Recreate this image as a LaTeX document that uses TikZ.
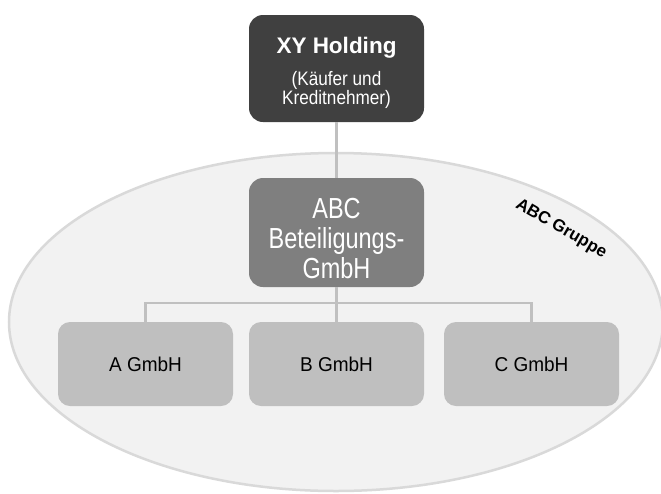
\documentclass[tikz,border=0pt]{standalone}
\usepackage{fontspec}
\setmainfont{Liberation Sans}
\newfontfamily\narrowfont[FakeStretch=0.81]{Liberation Sans}
\newfontfamily\semifont[FakeStretch=0.88]{Liberation Sans}
\newfontfamily\lowfont[FakeStretch=0.95]{Liberation Sans}
\usetikzlibrary{shapes.geometric}
\definecolor{topbox}{HTML}{404040}
\definecolor{midbox}{HTML}{7F7F7F}
\definecolor{lowbox}{HTML}{BFBFBF}
\definecolor{ellfill}{HTML}{F2F2F2}
\definecolor{ellline}{HTML}{D9D9D9}
\definecolor{conn}{HTML}{C0C0C0}
\tikzset{
  orgbox/.style={rectangle, rounded corners=14pt, minimum width=175pt, align=center, inner sep=0pt},
  topstyle/.style={orgbox, fill=topbox, minimum height=107pt},
  midstyle/.style={orgbox, fill=midbox, minimum height=109pt},
  lowstyle/.style={orgbox, fill=lowbox, text=black, minimum height=84pt, rounded corners=12pt, font=\lowfont\fontsize{20}{23}\selectfont},
  boxtext/.style={anchor=base, inner sep=0pt, text=white},
  connector/.style={draw=conn, line width=2.8pt}
}
\begin{document}
\begin{tikzpicture}[x=1pt,y=-1pt]
\useasboundingbox (0,0) rectangle (661,493);
\fill[white] (0,0) rectangle (661,493);
\node[ellipse, draw=ellline, fill=ellfill, line width=2.5pt, minimum width=654pt, minimum height=338pt, inner sep=0pt] (grp) at (336,322) {};
\node[topstyle] (xy) at (336.5,68.5) {};
\node[boxtext, font=\fontsize{22.5}{26}\selectfont\bfseries] (xy1) at (336.5,53) {XY Holding};
\node[boxtext, font=\semifont\fontsize{19.5}{20}\selectfont] (xy2) at (336.5,85) {(Käufer und};
\node[boxtext, font=\semifont\fontsize{19.5}{20}\selectfont] (xy3) at (336.5,104) {Kreditnehmer)};
\node[midstyle] (abc) at (336.5,232.5) {};
\node[boxtext, font=\narrowfont\fontsize{29}{30}\selectfont] (abc1) at (336.5,218) {ABC};
\node[boxtext, font=\narrowfont\fontsize{29}{30}\selectfont] (abc2) at (336.5,248.5) {Beteiligungs-};
\node[boxtext, font=\narrowfont\fontsize{29}{30}\selectfont] (abc3) at (336.5,278.5) {GmbH};
\node[lowstyle] (a) at (145.5,364) {A GmbH};
\node[lowstyle] (b) at (336.5,364) {B GmbH};
\node[lowstyle] (c) at (531.5,364) {C GmbH};
\node[rotate=-30, font=\fontsize{17}{19}\selectfont\bfseries] (lbl) at (561,229) {ABC Gruppe};
\coordinate (bus) at (336.5,303);
\draw[connector] (xy.south) -- (abc.north);
\draw[connector] (abc.south) -- (b.north);
\draw[connector] (a.north) |- (bus) -| (c.north);
\end{tikzpicture}
\end{document}
